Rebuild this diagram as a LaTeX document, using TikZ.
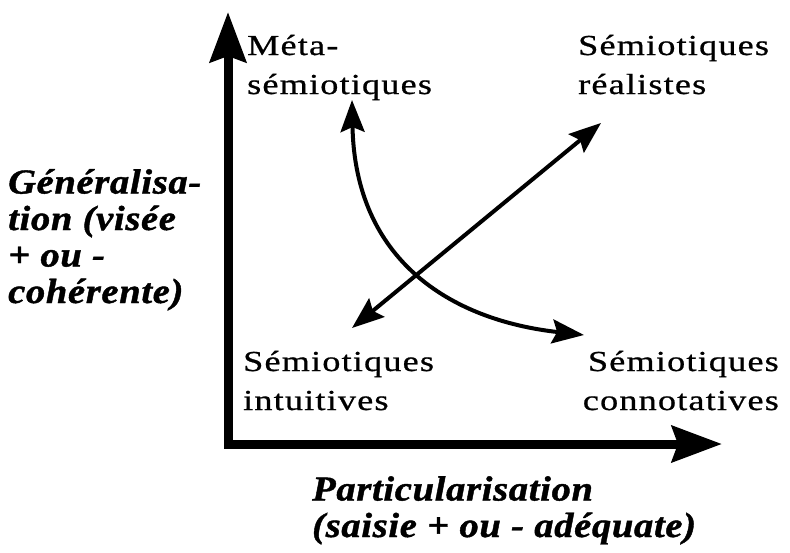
\documentclass[tikz,border=0pt]{standalone}
\usepackage{fontspec}
\setmainfont{Liberation Serif}
\newfontfamily\labelfont[LetterSpace=4, FakeStretch=1.25, FakeBold=0.7]{Liberation Serif}
\newfontfamily\axisfont[LetterSpace=2, FakeStretch=1.1, FakeBold=1.2]{Liberation Serif}
\usepackage{tikz}
\usetikzlibrary{positioning, arrows.meta}

\begin{document}
\begin{tikzpicture}[x=1pt, y=-1pt,
  corner/.style={font=\labelfont\fontsize{29}{39}\selectfont, inner sep=0pt},
  axislabel/.style={font=\axisfont\bfseries\itshape\fontsize{35}{36.5}\selectfont, inner sep=0pt, align=left},
  axis/.style={line width=9pt, {Stealth[length=50pt, width=36pt, inset=6pt]}-{Stealth[length=50pt, width=36pt, inset=6pt]}},
  link/.style={line width=4pt, {Stealth[length=32pt, width=24pt, inset=5pt]}-{Stealth[length=32pt, width=24pt, inset=5pt]}}]
  \useasboundingbox (0,0) rectangle (790,552);
  \coordinate (origin) at (228,444);
  \coordinate (ytip) at (228,12);
  \coordinate (xtip) at (722,444);
  \draw[axis] (ytip) -- (origin) -- (xtip);

  \node[corner, align=left, anchor=base west] (meta) at (247,94) {Méta-\\sémiotiques};
  \node[corner, align=left, anchor=base west] (realistes) at (578,94) {Sémiotiques\\réalistes};
  \node[corner, align=left, anchor=base west] (intuitives) at (243,410) {Sémiotiques\\intuitives};
  \node[corner, align=right, anchor=base east] (connotatives) at (779,410) {Sémiotiques\\connotatives};

  \node[axislabel, anchor=base west] (generalisation) at (8,303) {Généralisa-\\tion (visée\\+ ou -\\cohérente)};
  \node[axislabel, anchor=base west] (particularisation) at (312,537) {Particularisation\\(saisie + ou - adéquate)};

  \coordinate (diagA) at (352,328);
  \coordinate (diagB) at (601,123);
  \coordinate (curvA) at (352,100);
  \coordinate (curvB) at (584,335);
  \draw[link] (diagA) -- (diagB);
  \draw[link] (curvA) .. controls (355,260) and (450,320) .. (curvB);
\end{tikzpicture}
\end{document}
